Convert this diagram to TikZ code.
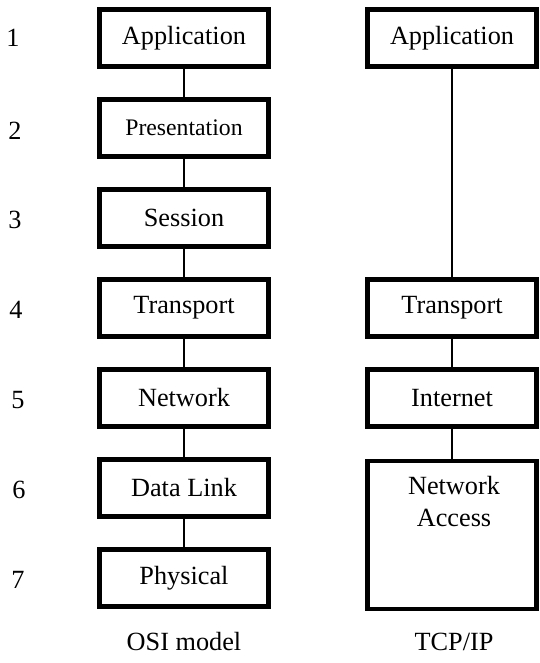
\documentclass[tikz,border=0pt]{standalone}
\usepackage{fontspec}
\setmainfont{Liberation Serif}
\usetikzlibrary{positioning}
\tikzset{
  layer/.style={draw=black, line width=3.7pt, fill=white, inner sep=0pt,
    minimum width=126.8pt, minimum height=43pt, font=\fontsize{19.7}{24}\selectfont},
  num/.style={inner sep=0pt, font=\fontsize{19.7}{24}\selectfont},
  caption/.style={inner sep=0pt, font=\fontsize{19.7}{24}\selectfont},
  link/.style={draw=black, line width=1.1pt},
}

\begin{document}
\begin{tikzpicture}[x=0.75pt,y=-0.75pt]
\useasboundingbox (0,0) rectangle (539,663);

% ----- layer numbers -----
\node[num] (n1) at (13,38) {1};
\node[num] (n2) at (15,131) {2};
\node[num] (n3) at (15,220) {3};
\node[num] (n4) at (16,310) {4};
\node[num] (n5) at (18,400) {5};
\node[num] (n6) at (19,490) {6};
\node[num] (n7) at (18,580) {7};

% ----- OSI stack -----
\node[layer] (osiapp) at (184,38) {Application};
\node[layer, font=\fontsize{17.8}{22}\selectfont] (osipres) at (184,128) {Presentation};
\node[layer] (osisess) at (184,218) {Session};
\node[layer] (ositrans) at (184,308) {Transport};
\node[layer] (osinet) at (184,398) {Network};
\node[layer] (osidl) at (184,488) {Data Link};
\node[layer] (osiphys) at (184,578) {Physical};

\draw[link] (osiapp) -- (osipres);
\draw[link] (osipres) -- (osisess);
\draw[link] (osisess) -- (ositrans);
\draw[link] (ositrans) -- (osinet);
\draw[link] (osinet) -- (osidl);
\draw[link] (osidl) -- (osiphys);

% ----- TCP/IP stack -----
\node[layer] (tcpapp) at (452,38) {Application};
\node[layer] (tcptrans) at (452,308) {Transport};
\node[layer] (tcpinet) at (452,398) {Internet};
\node[layer, minimum height=111pt] (tcpacc) at (452,535) {};
\node[caption, align=center, anchor=north] (tcpacctext) at (454,476) {Network\\Access};

\draw[link] (tcpapp) -- (tcptrans);
\draw[link] (tcptrans) -- (tcpinet);
\draw[link] (tcpinet) -- (tcpacc);

% ----- captions -----
\node[caption] (osicap) at (184,642) {OSI model};
\node[caption] (tcpcap) at (454,642) {TCP/IP};

\end{tikzpicture}
\end{document}
